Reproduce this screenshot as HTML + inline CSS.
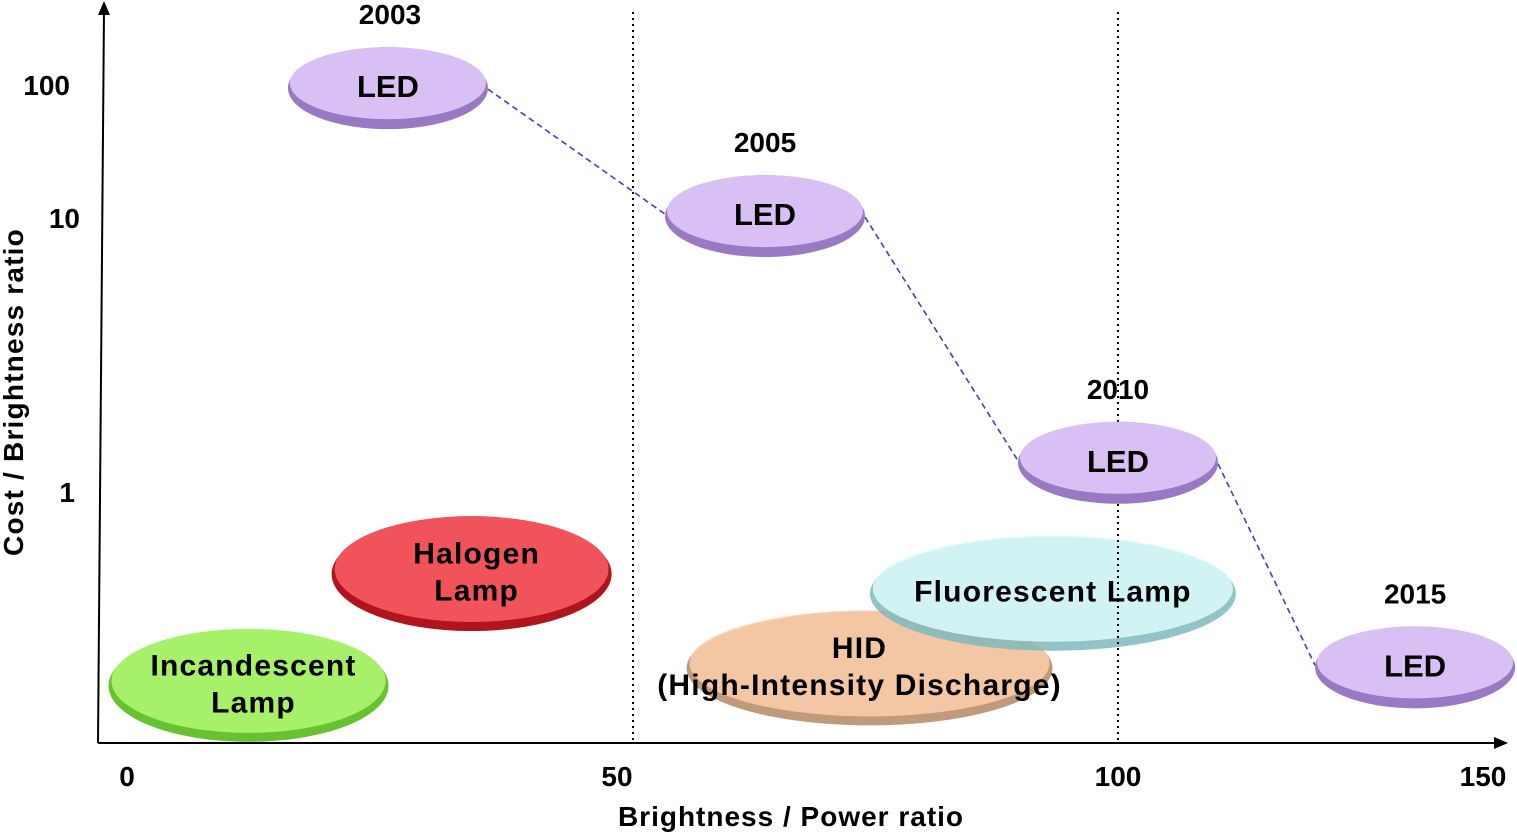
<!DOCTYPE html>
<html><head><meta charset="utf-8"><style>
html,body{margin:0;padding:0;background:#fff;}
svg{display:block;font-family:"Liberation Sans","DejaVu Sans",sans-serif;font-weight:bold;}
</style></head><body>
<svg id="chart" width="1517" height="835" viewBox="0 0 1517 835" xmlns="http://www.w3.org/2000/svg"></svg>
<script>
const xTickValues=[0,50,100,150];
const xTickLabels=["0","50","100","150"];
const yTickValues=[1,10,100];
const yTickLabels=["1","10","100"];
const ledYears=["2003","2005","2010","2015"];
const ledX=[26.2,64.2,100,140.7];
const ledY=[98,10.7,1.3,0.2];
const lampNames=["Incandescent Lamp","Halogen Lamp","HID (High-Intensity Discharge)","Fluorescent Lamp"];
const lampX=[12.2,34.6,74.8,93.4];
const lampY=[0.17,0.48,0.2,0.40];

function xs(v){const k=[[0,127],[50,625],[100,1118],[150,1483]];
 for(let i=0;i<k.length-1;i++){if(v<=k[i+1][0]||i==k.length-2){const a=k[i],b=k[i+1];return a[1]+(v-a[0])*(b[1]-a[1])/(b[0]-a[0]);}}}
function ys(v){const l=Math.log10(v);const k=[[-1,740],[0,492],[1,218],[2,85]];
 for(let i=0;i<k.length-1;i++){if(l<=k[i+1][0]||i==k.length-2){const a=k[i],b=k[i+1];return a[1]+(l-a[0])*(b[1]-a[1])/(b[0]-a[0]);}}}

const svg=document.getElementById('chart');const NS="http://www.w3.org/2000/svg";
function el(t,at,p){const e=document.createElementNS(NS,t);for(const k in at)e.setAttribute(k,at[k]);(p||svg).appendChild(e);return e;}

const lampFill=[["#66c22e","#a6f06a"],["#b0141c","#f0545a"],["#b58a64","#fccfaa"],["#7fb8bc","#dcfcfc"]];
const lampR=[[140,56],[140,57],[183,57],[183,57]];
const lampLines=[["Incandescent","Lamp"],["Halogen","Lamp"],["HID","(High-Intensity Discharge)"],["Fluorescent Lamp"]];
const lampTextDx=[5,5,-10,0];
for(let i=0;i<lampNames.length;i++){
 const g=el('g',{});
 
 
 const cx=xs(lampX[i]),cy=ys(lampY[i]);
 el('ellipse',{cx:cx,cy:cy+3,rx:lampR[i][0],ry:lampR[i][1],fill:lampFill[i][0],opacity:i>=2?0.85:1},g);
 el('ellipse',{cx:cx,cy:cy-2,rx:lampR[i][0]-3,ry:lampR[i][1]-4,fill:lampFill[i][1],opacity:i>=2?0.85:1},g);
}
for(let i=0;i<lampNames.length;i++){
 const cx=xs(lampX[i])+lampTextDx[i],cy=ys(lampY[i]);const n=lampLines[i].length;
 lampLines[i].forEach((s,j)=>{const t=el('text',{x:cx,y:cy+11+(j-(n-1)/2)*37,'text-anchor':'middle','font-size':30,fill:'#000','letter-spacing':1.2});t.textContent=s;
 
 });
}
for(let i=0;i<ledX.length-1;i++){
 const l=el('line',{x1:xs(ledX[i])+100,y1:ys(ledY[i])+3,x2:xs(ledX[i+1])-100,y2:ys(ledY[i+1]),stroke:'#3344cc','stroke-width':1.6,'stroke-dasharray':'6,4'});
 
 
}
[50,100].forEach(v=>{const l=el('line',{x1:v==50?633:xs(v),y1:12,x2:v==50?633:xs(v),y2:743,stroke:'#000','stroke-width':2,'stroke-dasharray':'2,4'});
 
 });
for(let i=0;i<ledX.length;i++){
 const g=el('g',{});
 
 
 const cx=xs(ledX[i]),cy=ys(ledY[i]);
 el('ellipse',{cx:cx,cy:cy+2,rx:100,ry:41,fill:'#9a79c4'},g);
 el('ellipse',{cx:cx,cy:cy-3,rx:98,ry:36,fill:'#d8c0f4'},g);
 const t=el('text',{x:cx,y:cy+11,'text-anchor':'middle','font-size':31,fill:'#000'},g);t.textContent='LED';
 const y=el('text',{x:cx+(i==0?2:0),y:cy-62,'text-anchor':'middle','font-size':28,fill:'#000'},g);y.textContent=ledYears[i];
}
const ax=el('g',{});


el('line',{x1:98,y1:743,x2:1500,y2:743,stroke:'#000','stroke-width':2},ax);
el('polygon',{points:'1508,743 1494,737 1494,749',fill:'#000'},ax);
el('line',{x1:98,y1:743,x2:104,y2:10,stroke:'#000','stroke-width':2},ax);
el('polygon',{points:'104,1 98,15 110,15',fill:'#000'},ax);
xTickValues.forEach((v,i)=>{const t=el('text',{x:i==1?617:xs(v),y:786,'text-anchor':'middle','font-size':28,fill:'#000'});t.textContent=xTickLabels[i];
 
 });
yTickValues.forEach((v,i)=>{const t=el('text',{x:i==0?75:(i==1?80:70),y:ys(v)+10,'text-anchor':'end','font-size':28,fill:'#000'});t.textContent=yTickLabels[i];
 
 });
const xt=el('text',{x:791,y:826,'text-anchor':'middle','font-size':28,fill:'#000','letter-spacing':1});xt.textContent='Brightness / Power ratio';


const yt=el('text',{x:0,y:0,'text-anchor':'middle','font-size':28,fill:'#000','letter-spacing':1.2,transform:'translate(23,392) rotate(-90)'});yt.textContent='Cost / Brightness ratio';


</script>
</body></html>
